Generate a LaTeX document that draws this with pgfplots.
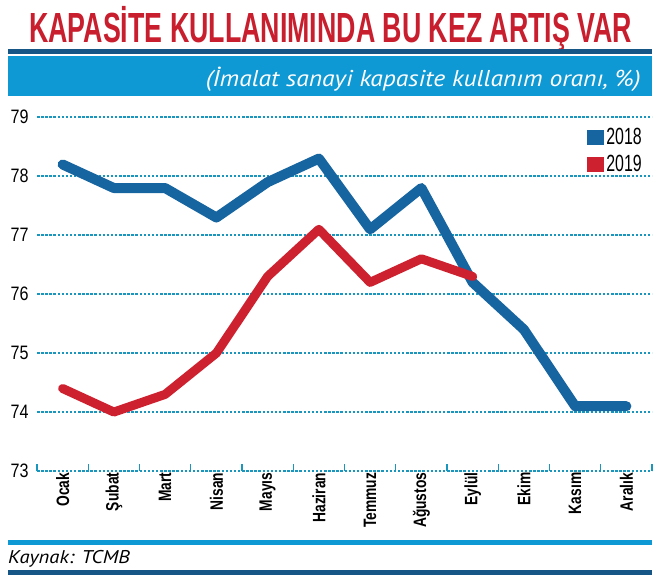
\documentclass[border=0pt]{standalone}
\usepackage{fontspec}
\usepackage{graphicx}
\usepackage{pgfplots}
\pgfplotsset{compat=1.18}
\setmainfont{Liberation Sans}
\newfontfamily\titlefont{Liberation Sans}
\newfontfamily\tickfont[FakeStretch=0.83]{Liberation Sans}
\newfontfamily\legfont[FakeStretch=0.68]{Liberation Sans}
\newfontfamily\monthfont[FakeStretch=0.77]{Liberation Sans}
\newfontfamily\subfont[FakeStretch=1.12]{PT Sans}

\definecolor{titlered}{RGB}{200,30,45}
\definecolor{darkband}{RGB}{22,86,135}
\definecolor{lightband}{RGB}{14,152,212}
\definecolor{gridteal}{RGB}{25,150,190}
\definecolor{line18}{RGB}{22,100,160}
\definecolor{line19}{RGB}{206,33,48}

\begin{document}
\begin{tikzpicture}
\useasboundingbox (0,0) rectangle (660bp,-578bp);

% header
\node[anchor=base west, inner sep=0pt, text=titlered] at (29bp,-42bp)
  {\titlefont\bfseries\resizebox{603bp}{29bp}{\smash{KAPASİTE KULLANIMINDA BU KEZ ARTIŞ VAR}\vphantom{K}}};
\fill[darkband] (8bp,-49bp) rectangle (652bp,-54bp);
\fill[lightband] (8bp,-56bp) rectangle (652bp,-96bp);
\node[anchor=base east, inner sep=0pt, text=white, font=\subfont\itshape\fontsize{23}{25}\selectfont]
  at (641bp,-86bp) {(İmalat sanayi kapasite kullanım oranı, \%)};

% footer
\fill[lightband] (8bp,-540bp) rectangle (652bp,-545bp);
\node[anchor=base west, inner sep=0pt, font=\subfont\itshape\fontsize{18.5}{20}\selectfont]
  at (8bp,-563bp) {Kaynak: TCMB};
\fill[darkband] (8bp,-570bp) rectangle (652bp,-575bp);

\begin{axis}[
    at={(37bp,-471bp)}, anchor=south west,
    scale only axis,
    width=615bp, height=353.7bp,
    xmin=-0.5, xmax=11.5,
    ymin=73, ymax=79,
    clip=false,
    axis line style={draw=none},
    tick pos=left,
    major tick length=0pt,
    xtick={0,...,11},
    xticklabels={Ocak,Şubat,Mart,Nisan,Mayıs,Haziran,Temmuz,Ağustos,Eylül,Ekim,Kasım,Aralık},
    xticklabel style={rotate=90, anchor=east, inner sep=1.5bp,
        font=\monthfont\bfseries\fontsize{18}{18}\selectfont},
    extra x ticks={-0.5,0.5,...,11.5},
    extra x tick labels={},
    extra x tick style={major tick length=7bp, tick align=inside,
        tick style={gridteal, line width=1.3bp}, grid=none},
    ytick={73,...,79},
    yticklabel style={font=\tickfont\fontsize{19.5}{20}\selectfont, xshift=-5bp},
    /pgf/number format/assume math mode=true,
    ymajorgrids,
    grid style={gridteal, line width=1.9bp, dash pattern=on 2.5bp off 1.6bp},
    legend style={at={(axis description cs:1,1)}, anchor=north east,
        xshift=-8bp, yshift=-9bp, draw=none, fill=none,
        font=\legfont\fontsize{23.5}{24}\selectfont,
        row sep=5bp, inner sep=0pt},
    legend cell align=left,
    legend image code/.code={\fill[#1, draw=none] (0bp,-7.5bp) rectangle (17bp,7.5bp);},
]
\addplot[line18, line width=10bp, line cap=round, line join=round] coordinates {
    (0,78.2) (1,77.8) (2,77.8) (3,77.3) (4,77.9) (5,78.3)
    (6,77.1) (7,77.8) (8,76.2) (9,75.4) (10,74.1) (11,74.1) };
\addlegendentry{2018}
\addplot[line19, line width=9bp, line cap=round, line join=round] coordinates {
    (0,74.4) (1,74.0) (2,74.3) (3,75.0) (4,76.3) (5,77.1)
    (6,76.2) (7,76.6) (8,76.3) };
\addlegendentry{2019}
\end{axis}
\end{tikzpicture}
\end{document}
